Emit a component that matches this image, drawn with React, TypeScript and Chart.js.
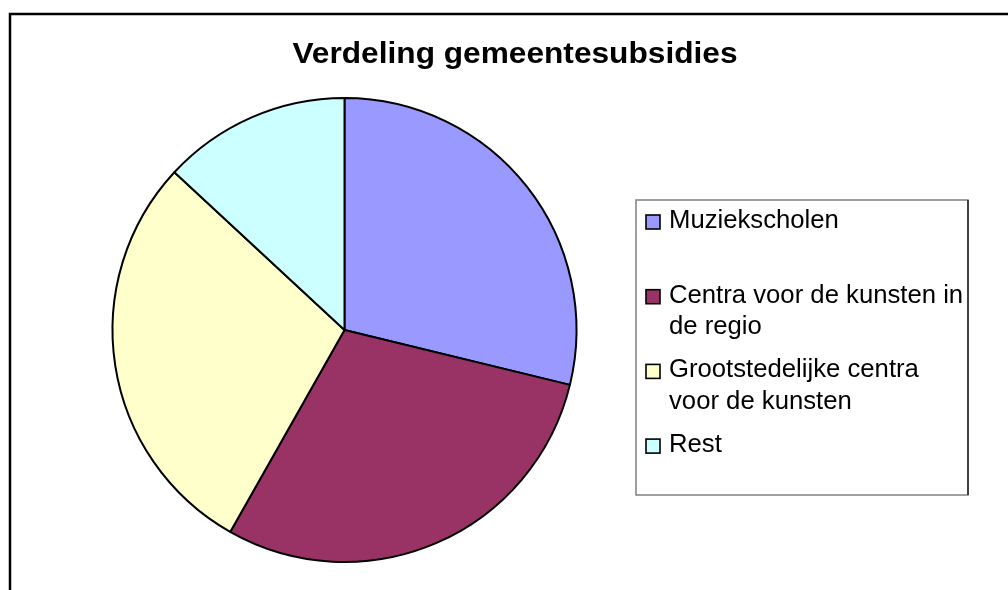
import React, { useEffect, useRef } from "react";
import { Chart, registerables } from "chart.js";

Chart.register(...registerables);

const TITLE = "Verdeling gemeentesubsidies";
const categories = [
  "Muziekscholen",
  "Centra voor de kunsten in de regio",
  "Grootstedelijke centra voor de kunsten",
  "Rest",
];
const shares = [28.8, 29.4, 28.7, 13.1];
const sliceColors = ["#9999FF", "#993366", "#FFFFCC", "#CCFFFF"];

const FONT = '"Liberation Sans", Arial, Helvetica, sans-serif';

function wrapText(ctx: CanvasRenderingContext2D, text: string, maxWidth: number): string[] {
  const words = text.split(" ");
  const lines: string[] = [];
  let cur = "";
  for (const w of words) {
    const test = cur ? cur + " " + w : w;
    if (ctx.measureText(test).width > maxWidth && cur) {
      lines.push(cur);
      cur = w;
    } else {
      cur = test;
    }
  }
  if (cur) lines.push(cur);
  return lines;
}

const decorPlugin = {
  id: "decor",
  beforeDraw(chart: any) {
    const ctx: CanvasRenderingContext2D = chart.ctx;
    ctx.save();
    ctx.fillStyle = "#ffffff";
    ctx.fillRect(0, 0, chart.width, chart.height);
    // outer frame
    ctx.strokeStyle = "#000000";
    ctx.lineWidth = 2.5;
    ctx.strokeRect(10, 14, 1100, 700);
    ctx.restore();
  },
  afterDraw(chart: any) {
    const ctx: CanvasRenderingContext2D = chart.ctx;
    ctx.save();
    // title (slightly widened to match the reference)
    ctx.fillStyle = "#000000";
    ctx.font = `bold 30px ${FONT}`;
    ctx.textAlign = "center";
    ctx.textBaseline = "alphabetic";
    ctx.save();
    ctx.translate(515, 63);
    ctx.scale(1.055, 1);
    ctx.fillText(TITLE, 0, 0);
    ctx.restore();

    // legend box
    const bx = 636, by = 200, bw = 332, bh = 295;
    ctx.fillStyle = "#ffffff";
    ctx.fillRect(bx, by, bw, bh);
    ctx.strokeStyle = "#808080";
    ctx.lineWidth = 1.5;
    ctx.strokeRect(bx, by, bw, bh);
    ctx.strokeStyle = "#222222";
    ctx.beginPath();
    ctx.moveTo(bx + bw, by);
    ctx.lineTo(bx + bw, by + bh);
    ctx.stroke();

    const labels: string[] = chart.data.labels;
    const colors: string[] = chart.data.datasets[0].backgroundColor;
    ctx.font = `25.7px ${FONT}`;
    ctx.textAlign = "left";
    const textX = 669;
    const firstBaseline = 228;
    const slot = 74.7;
    const lineH = 31.5;
    labels.forEach((lab, i) => {
      const base = firstBaseline + i * slot;
      ctx.fillStyle = colors[i];
      ctx.fillRect(646, base - 13, 14, 14);
      ctx.strokeStyle = "#000000";
      ctx.lineWidth = 1.6;
      ctx.strokeRect(646, base - 13, 14, 14);
      ctx.fillStyle = "#000000";
      const lines = wrapText(ctx, lab, 299);
      lines.forEach((ln, j) => ctx.fillText(ln, textX, base + j * lineH));
    });
    ctx.restore();
  },
};

export default function App() {
  const ref = useRef<HTMLCanvasElement | null>(null);
  useEffect(() => {
    if (!ref.current) return;
    const chart = new Chart(ref.current, {
      type: "pie",
      data: {
        labels: categories,
        datasets: [
          {
            data: shares,
            backgroundColor: sliceColors,
            borderColor: "#000000",
            borderWidth: 2,
          },
        ],
      },
      options: {
        responsive: false,
        animation: false,
        events: [],
        radius: 232,
        layout: { padding: { left: 100, right: 419, top: 90, bottom: 20 } },
        plugins: {
          legend: { display: false },
          title: { display: false },
          tooltip: { enabled: false },
        },
      } as any,
      plugins: [decorPlugin],
    });
    return () => chart.destroy();
  }, []);
  return (
    <div style={{ position: "absolute", left: 0, top: 0, width: 1008, height: 590 }}>
      <canvas ref={ref} width={1008} height={590} style={{ display: "block", width: 1008, height: 590 }} />
    </div>
  );
}
